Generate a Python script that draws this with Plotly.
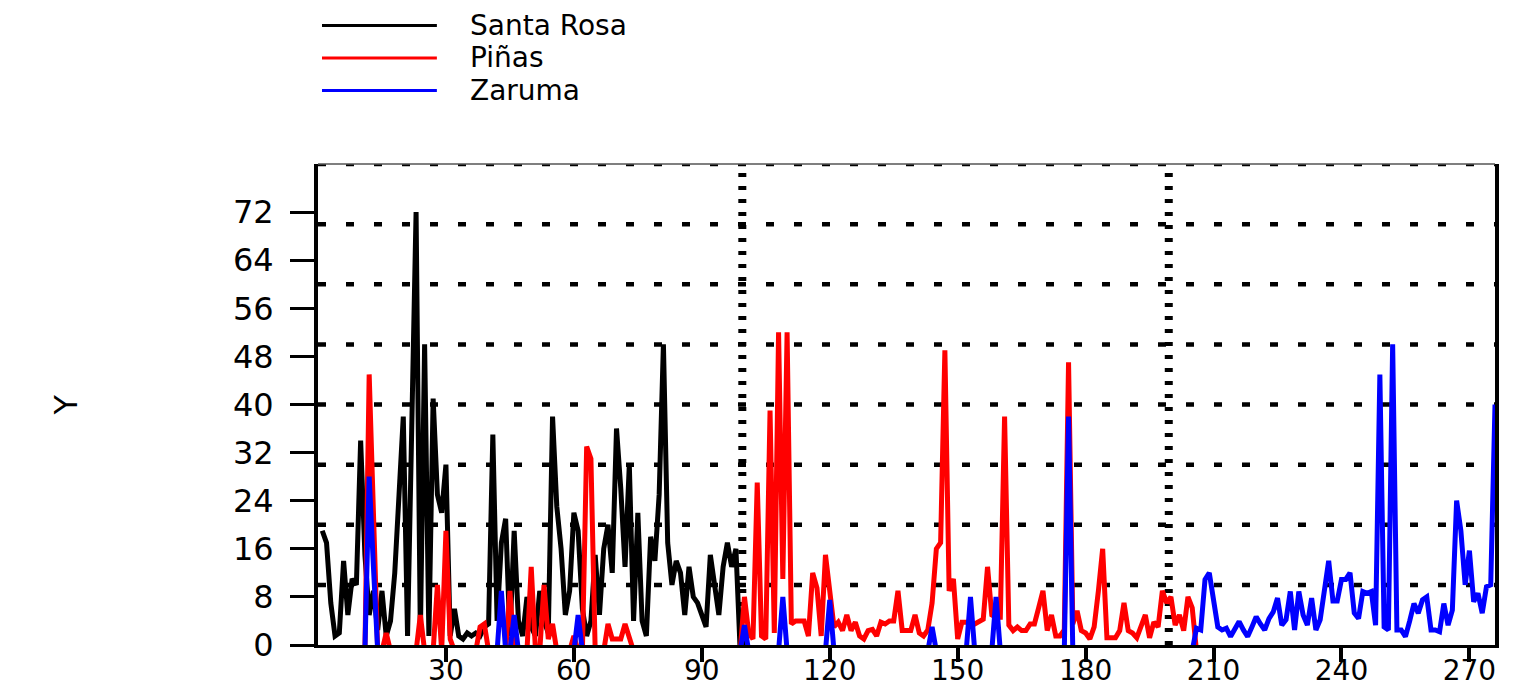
import plotly.graph_objects as go

santa_rosa_x = list(range(1, 100))
santa_rosa_y = [19, 17, 7, 1.5, 2, 14, 5, 11, 10, 34,
                15, 5, 9, 2.5, 9, 1.5, 4, 12, 25, 38,
                1.5, 36, 72, 1.5, 50, 1.5, 41, 25, 22, 30,
                1.5, 6, 1.5, 1, 2, 1.5, 2, 1.5, 3, 3.5,
                35, 4, 17, 21, 1.5, 19, 4, 1.5, 8, 3,
                1.5, 9, 4, 2, 38, 23, 16, 5, 9, 22,
                19, 6, 1.5, 4, 15, 5, 16, 20, 12, 36,
                26, 13, 30, 4, 22, 4, 1.5, 18, 14, 25,
                50, 17, 10, 14, 12, 5, 13, 8, 7, 5,
                3, 15, 10, 5, 13, 17, 13, 16, -1]

pinas_x_early = [11, 12, 13, 14, 15, 16, 17, 23, 24, 25, 27, 28, 29, 30, 31, 32,
                 37, 38, 39, 40, 44, 45, 46, 49, 50, 51, 52, 53, 54, 55, 56,
                 59, 60, 61, 62, 63, 64, 65, 67, 68, 69, 70, 71, 72, 73, 74, 99]
pinas_y_early = [-1, 45, 22, -1, -1, 2, -1, -1, 5, -1, -1, 10, -1, 19, 1, -1,
                 -1, 3, 3.5, -1, -1, 9, -1, -1, 13, -1, -1, 10, 1, 3.5, -1,
                 -1, 1.5, -1, -1, 33, 31, -1, -1, 3.5, 1, 1, 1, 3.5, 1, -1, -1]
pinas_y_main = [8, 2, 1, 27, 1.5, 1, 39, 2, 52, 11,
                52, 3.5, 4, 4, 4, 1.5, 12, 9.5, 1.5, 15,
                9.5, 3, 3.8, 2.4, 5, 2.4, 3.8, 1.5, 1, 2.4,
                2.6, 1.5, 3.8, 3.5, 4, 4, 9, 2.4, 2.4, 2.4,
                5, 2, 1.5, 2.5, 7, 16, 17, 49, 9, 11,
                1, 3.8, 3.8, 3.5, 3.5, 4, 4.3, 13, 5, 4.6,
                4.6, 38, 3.3, 2.4, 3, 2.4, 2.4, 3.5, 3.5, 6.2,
                9, 2.4, 5, 1.5, 1.5, 2.5, 47, 3.5, 5.7, 2.4,
                2, 1, 3, 9, 16, 1.2, 1.2, 1.2, 2.4, 7,
                2.4, 2, 1.2, 3, 5, 1.2, 3.8, 3, 9, 7,
                8, 3.3, 5, 2.4, 8, 6.2, -1]

zaruma_x_early = [11, 12, 13, 14, 42, 43, 44, 45, 46, 47, 60, 61, 62,
                  99, 100, 101, 108, 109, 110, 119, 120, 121, 143, 144, 145,
                  152, 153, 154, 158, 159, 160, 175, 176, 177, 205]
zaruma_y_early = [-1, 28, 13, -1, -1, 9, -1, -1, 5, -1, -1, 5, -1,
                  -1, 3.3, -1, -1, 8, -1, -1, 7.5, -1, -1, 3, -1,
                  -1, 8, -1, -1, 8, -1, -1, 38, -1, -1]
zaruma_y_main = [2.8, 2.5, 10.9, 12, 7, 3, 2.5, 2.8, 1.4, 2.5,
                 3.9, 2.5, 1.4, 3, 4.7, 3.5, 2.5, 4.4, 5.5, 7.8,
                 3.3, 4.2, 8.9, 2.5, 8.9, 5, 3.3, 7.8, 2.5, 4.2,
                 9, 14, 7.3, 7.3, 10.9, 10.9, 12, 5.3, 4.4, 8.9,
                 8.6, 8.9, 3.3, 45, 3, 2.5, 50, 2.5, 2.5, 1.4,
                 4, 6.9, 5.3, 7.5, 8, 2.5, 2.5, 2.2, 6.9, 3.3,
                 5.8, 24, 19, 10, 15.7, 7.2, 8.6, 5.3, 9.7, 10,
                 40]

pinas_x = pinas_x_early + list(range(100, 100 + len(pinas_y_main)))
pinas_y = pinas_y_early + pinas_y_main
zaruma_x = zaruma_x_early + list(range(206, 206 + len(zaruma_y_main)))
zaruma_y = zaruma_y_early + zaruma_y_main

series_names = ["Santa Rosa", "Piñas", "Zaruma"]
series_colors = ["#000000", "#ff0000", "#0000ff"]

y_ticks = list(range(0, 73, 8))
x_ticks = list(range(30, 271, 30))
grid_levels = list(range(10, 81, 10))
dividers = [99.5, 199.5]

FONT = "DejaVu Sans"

fig = go.Figure()
for name, xs, ys, col in zip(series_names,
                             [santa_rosa_x, pinas_x, zaruma_x],
                             [santa_rosa_y, pinas_y, zaruma_y],
                             series_colors):
    fig.add_trace(go.Scatter(x=xs, y=ys, mode="lines", name=name, showlegend=False,
                             line=dict(color=col, width=5)))

# dotted grid + dividers
for g in grid_levels:
    fig.add_hline(y=g, line=dict(color="black", width=4.5, dash="8px,20px"), layer="below")
for d in dividers:
    fig.add_vline(x=d, line=dict(color="black", width=8, dash="4px,9px"), layer="below")
fig.add_shape(type="line", xref="paper", yref="paper", x0=0, x1=1, y0=1, y1=1,
              line=dict(color="#555555", width=1.5))

# legend drawn above the plot: long line swatch + big label
for i, (name, col) in enumerate(zip(series_names, series_colors)):
    yy = 1.288 - i * 0.0676
    fig.add_shape(type="line", xref="paper", yref="paper", x0=0.0034, x1=0.101,
                  y0=yy, y1=yy, line=dict(color=col, width=3))
    fig.add_annotation(text=name, xref="paper", yref="paper", x=0.1274, y=yy,
                       xanchor="left", yanchor="middle", showarrow=False,
                       font=dict(size=28, family=FONT, color="black"))

# y axis title
fig.add_annotation(text="Y", xref="paper", yref="paper", x=-0.232, y=0.5,
                   textangle=-90, showarrow=False,
                   font=dict(size=32, family=FONT, color="black"))

fig.update_layout(
    width=1515, height=683,
    margin=dict(l=310, r=28, t=156, b=46, autoexpand=False),
    plot_bgcolor="white", paper_bgcolor="white",
    font=dict(family=FONT, color="black"),
    showlegend=False,
)
fig.update_xaxes(range=[0, 276], tickvals=x_ticks, showgrid=False, zeroline=False,
                 showline=True, linecolor="black", linewidth=3, automargin=False,
                 ticks="outside", ticklen=14, tickwidth=4, tickcolor="black",
                 ticklabelstandoff=-16, tickfont=dict(size=28, family=FONT))
fig.update_yaxes(range=[0, 80], tickvals=y_ticks, showgrid=False, zeroline=False,
                 showline=True, linecolor="black", linewidth=4, mirror=True,
                 automargin=False,
                 ticks="outside", ticklen=24, tickwidth=3, tickcolor="black",
                 ticklabelstandoff=10, tickfont=dict(size=32, family=FONT))

fig.write_html("out.html")
